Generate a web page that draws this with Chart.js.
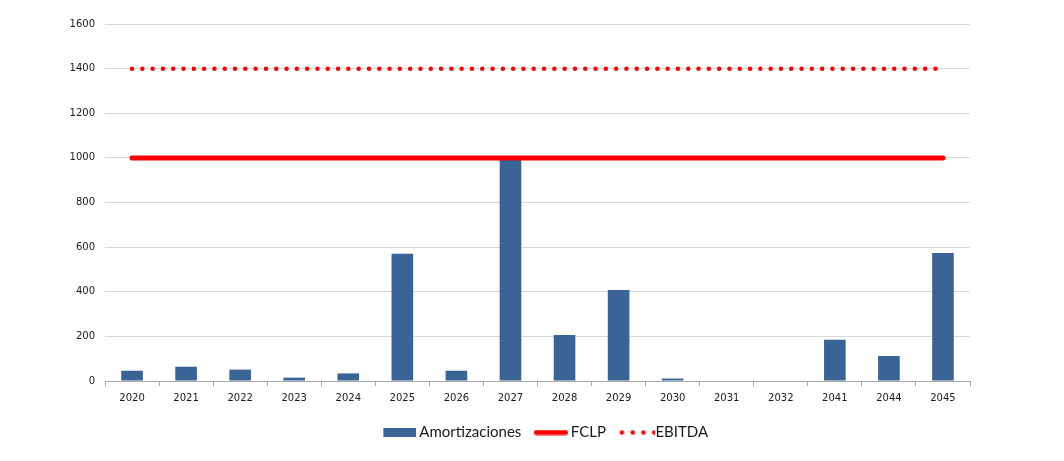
<!DOCTYPE html>
<html>
<head>
<meta charset="utf-8">
<script src="https://cdn.jsdelivr.net/npm/chart.js@4.4.0/dist/chart.umd.min.js"></script>
<style>
  html, body { margin: 0; padding: 0; background: #ffffff; }
  #wrap { width: 1064px; height: 461px; }
</style>
</head>
<body>
<div id="wrap"><canvas id="myChart"></canvas></div>
<script>
var years = ['2020', '2021', '2022', '2023', '2024', '2025', '2026', '2027', '2028', '2029', '2030', '2031', '2032', '2041', '2044', '2045'];
var amortizaciones = [46, 64, 51, 15, 34, 570, 46, 997, 206, 408, 11, 0, 0, 185, 112, 574];
var fclp = [1000, 1000, 1000, 1000, 1000, 1000, 1000, 1000, 1000, 1000, 1000, 1000, 1000, 1000, 1000, 1000];
var ebitda = [1400, 1400, 1400, 1400, 1400, 1400, 1400, 1400, 1400, 1400, 1400, 1400, 1400, 1400, 1400, 1400];
var yTicks = [0, 200, 400, 600, 800, 1000, 1200, 1400, 1600];

var blue = '#3B6496';
var red = '#FF0000';

// legend markers: drawn right-aligned so the text sits close to them
function marker(w, h, draw) {
    var c = document.createElement('canvas');
    c.width = w;
    c.height = h;
    draw(c.getContext('2d'));
    return c;
}
var boxMark = marker(41, 9, function (g) {
    g.fillStyle = blue;
    g.fillRect(8, 0, 33, 9);
});
var lineMark = marker(41, 6, function (g) {
    g.strokeStyle = red;
    g.lineWidth = 5;
    g.lineCap = 'round';
    g.beginPath();
    g.moveTo(9.5, 3);
    g.lineTo(38.5, 3);
    g.stroke();
});
var dotMark = marker(47, 6, function (g) {
    g.fillStyle = red;
    for (var i = 0; i < 4; i++) {
        g.beginPath();
        g.arc(13.5 + i * 10.7, 3, 2.3, 0, Math.PI * 2);
        g.fill();
    }
});

var ctx = document.getElementById('myChart');
var myChart = new Chart(ctx, {
    data: {
        labels: years,
        datasets: [{
            type: 'line',
            label: 'FCLP',
            data: fclp,
            borderColor: red,
            borderWidth: 5,
            borderCapStyle: 'round',
            pointRadius: 0,
            pointStyle: lineMark,
            order: 1
        }, {
            type: 'line',
            label: 'EBITDA',
            data: ebitda,
            borderColor: red,
            borderWidth: 4.5,
            borderDash: [0, 10.3],
            borderCapStyle: 'round',
            pointRadius: 0,
            pointStyle: dotMark,
            order: 0
        }, {
            type: 'bar',
            label: 'Amortizaciones',
            data: amortizaciones,
            backgroundColor: blue,
            categoryPercentage: 1,
            barPercentage: 0.4,
            pointStyle: boxMark,
            order: 2
        }]
    },
    options: {
        responsive: true,
        maintainAspectRatio: false,
        animation: false,
        layout: {
            padding: { left: 58, right: 34, top: 24, bottom: 11 }
        },
        plugins: {
            tooltip: { enabled: false },
            legend: {
                position: 'bottom',
                labels: {
                    usePointStyle: true,
                    pointStyleWidth: 32,
                    padding: 10,
                    color: '#1a1a1a',
                    font: { family: 'Lato', size: 15 },
                    sort: function (a, b) {
                        var want = ['Amortizaciones', 'FCLP', 'EBITDA'];
                        return want.indexOf(a.text) - want.indexOf(b.text);
                    }
                }
            }
        },
        scales: {
            x: {
                offset: true,
                grid: {
                    offset: true,
                    drawOnChartArea: false,
                    drawTicks: true,
                    tickLength: 5,
                    color: '#A6A6A6'
                },
                border: { color: '#A6A6A6' },
                ticks: {
                    color: '#1a1a1a',
                    font: { family: 'DejaVu Sans', size: 10 },
                    padding: 6,
                    maxRotation: 0
                },
                afterFit: function (axis) {
                    axis.height += 5;
                }
            },
            y: {
                min: 0,
                max: 1600,
                afterBuildTicks: function (axis) {
                    axis.ticks = yTicks.map(function (v) { return { value: v }; });
                },
                afterFit: function (axis) {
                    axis.width = 47;
                },
                grid: {
                    color: '#D9D9D9',
                    drawTicks: false
                },
                border: { display: false },
                ticks: {
                    color: '#1a1a1a',
                    font: { family: 'DejaVu Sans', size: 10 },
                    padding: 10,
                    callback: function (v) { return String(v); }
                }
            },
            // empty axis on the right, only to leave the space the original has there
            spacer: {
                position: 'right',
                display: true,
                grid: { display: false, drawTicks: false },
                border: { display: false },
                ticks: { display: false },
                afterFit: function (axis) {
                    axis.width = 60;
                }
            }
        }
    }
});
</script>
</body>
</html>
